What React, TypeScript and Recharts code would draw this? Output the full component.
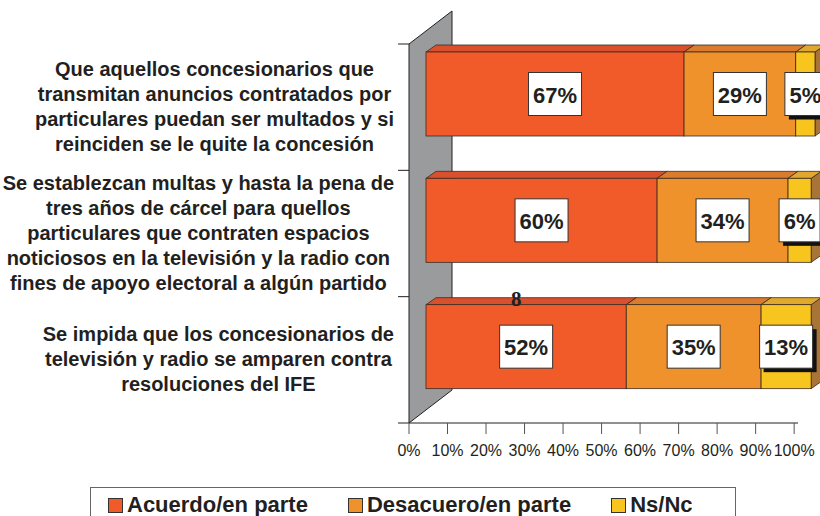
import { Bar, BarChart, ReferenceArea, XAxis, YAxis } from 'recharts'

const categories = [
  'Que aquellos concesionarios que\ntransmitan anuncios contratados por\nparticulares puedan ser multados y si\nreinciden se le quite la concesión',
  'Se establezcan multas y hasta la pena de\ntres años de cárcel para quellos\nparticulares que contraten espacios\nnoticiosos en la televisión y la radio con\nfines de apoyo electoral a algún partido',
  'Se impida que los concesionarios de\ntelevisión y radio se amparen contra\nresoluciones del IFE',
]

const acuerdo = [67, 60, 52]
const desacuerdo = [29, 34, 35]
const nsnc = [5, 6, 13]

const xTicks = [0, 10, 20, 30, 40, 50, 60, 70, 80, 90, 100]

const series = [
  { key: 'acuerdo', name: 'Acuerdo/en parte', front: '#f15a29', top: '#d9502c', side: '#b8441f', shadow: false },
  { key: 'desacuerdo', name: 'Desacuero/en parte', front: '#f0922b', top: '#db7b2c', side: '#b86a22', shadow: false },
  { key: 'nsnc', name: 'Ns/Nc', front: '#f8c51f', top: '#e0a92e', side: '#a97536', shadow: true },
]

const data = categories.map((name, i) => ({
  name,
  acuerdo: acuerdo[i],
  desacuerdo: desacuerdo[i],
  nsnc: nsnc[i],
}))

const TEXT = '#231f20'
const FONT = "'Liberation Sans', Arial, sans-serif"
const EDGE = '#3b2b22'

// bar depth and the shift of the bars back from the front plane
const DX = 10
const DY = -7
const SHIFT_X = 17
const SHIFT_Y = -13

function makeShape(s: (typeof series)[number]) {
  return (props: any) => {
    const { x, y, width, height, payload } = props
    if (!width || !height) return <g />
    const fx = x + SHIFT_X
    const fy = y + SHIFT_Y
    const v = payload[s.key]
    const text = `${v}%`
    const boxW = text.length === 2 ? 41 : 53
    const boxH = 43
    const cx = fx + width / 2
    const cy = fy + height / 2
    const topFace = `${fx},${fy} ${fx + DX},${fy + DY} ${fx + width + DX},${fy + DY} ${fx + width},${fy}`
    const sideFace = `${fx + width},${fy} ${fx + width + DX},${fy + DY} ${fx + width + DX},${fy + height + DY} ${fx + width},${fy + height}`
    return (
      <g>
        <polygon points={sideFace} fill={s.side} stroke={EDGE} strokeWidth={0.8} />
        <polygon points={topFace} fill={s.top} stroke={EDGE} strokeWidth={0.8} />
        <rect x={fx} y={fy} width={width} height={height} fill={s.front} stroke={EDGE} strokeWidth={0.8} />
        {s.shadow && (
          <rect x={cx - boxW / 2 + 4} y={cy - boxH / 2 + 4} width={boxW} height={boxH} fill="#111" />
        )}
        <rect x={cx - boxW / 2} y={cy - boxH / 2} width={boxW} height={boxH} fill="#fff" stroke="#333" strokeWidth={1} />
        <text
          x={cx}
          y={cy + 1}
          textAnchor="middle"
          dominantBaseline="central"
          fontFamily={FONT}
          fontWeight="bold"
          fontSize={22}
          fill={TEXT}
        >
          {text}
        </text>
      </g>
    )
  }
}

function Wall(props: any) {
  const { x, y, height } = props
  const depthX = 43
  const depthY = -33
  const pts = `${x},${y} ${x + depthX},${y + depthY} ${x + depthX},${y + height + depthY} ${x},${y + height}`
  const bands = [...categories, ''].map((_, i) => y + (i * height) / categories.length)
  return (
    <g>
      <polygon points={pts} fill="#9a9b9d" stroke={TEXT} strokeWidth={1} />
      {bands.map((by, i) => (
        <line key={i} x1={x - 11} y1={by} x2={x} y2={by} stroke={TEXT} strokeWidth={1} />
      ))}
    </g>
  )
}

function CategoryTick(props: any) {
  const { y, payload } = props
  return (
    <foreignObject x={0} y={y - 90} width={394} height={180}>
      <div
        style={{
          display: 'flex',
          height: '100%',
          alignItems: 'center',
          justifyContent: 'flex-end',
        }}
      >
        <div
          style={{
            textAlign: 'center',
            whiteSpace: 'pre-line',
            fontFamily: FONT,
            fontWeight: 'bold',
            fontSize: 20,
            lineHeight: '25px',
            color: TEXT,
          }}
        >
          {payload.value}
        </div>
      </div>
    </foreignObject>
  )
}

function PercentTick(props: any) {
  const { x, y, payload } = props
  return (
    <text x={x} y={y + 20} textAnchor="middle" fontFamily={FONT} fontSize={16} fill={TEXT}>
      {`${payload.value}%`}
    </text>
  )
}

export default function App() {
  return (
    <div style={{ position: 'absolute', left: 0, top: 0, width: 820, height: 516, background: '#fff', overflow: 'hidden' }}>
      <BarChart
        width={820}
        height={516}
        layout="vertical"
        data={data}
        margin={{ top: 44, right: 22, bottom: 63, left: 0 }}
        barSize={84}
      >
        <ReferenceArea x1={0} x2={100} ifOverflow="visible" shape={<Wall />} />
        <XAxis
          type="number"
          domain={[0, 100]}
          ticks={xTicks}
          interval={0}
          height={30}
          stroke={TEXT}
          tickLine={{ stroke: '#555' }}
          tickSize={11}
          tick={<PercentTick />}
        />
        <YAxis
          type="category"
          dataKey="name"
          width={409}
          axisLine={false}
          tickLine={false}
          tick={<CategoryTick />}
        />
        {series.map((s) => (
          <Bar
            key={s.key}
            dataKey={s.key}
            name={s.name}
            stackId="a"
            shape={makeShape(s)}
            isAnimationActive={false}
          />
        ))}
      </BarChart>
      <div
        style={{
          position: 'absolute',
          left: 511,
          top: 289,
          fontFamily: "'Liberation Serif', serif",
          fontWeight: 'bold',
          fontSize: 21,
          lineHeight: '21px',
          color: TEXT,
        }}
      >
        8
      </div>
      <div
        style={{
          position: 'absolute',
          left: 90,
          top: 487,
          width: 646,
          height: 40,
          border: '1px solid #666',
          boxSizing: 'border-box',
          display: 'flex',
          alignItems: 'flex-start',
          paddingLeft: 17,
          paddingTop: 4,
          gap: 40,
          fontFamily: FONT,
          fontWeight: 'bold',
          fontSize: 22,
          color: TEXT,
        }}
      >
        {series.map((s) => (
          <div key={s.key} style={{ display: 'flex', alignItems: 'center', gap: 4 }}>
            <span
              style={{
                display: 'inline-block',
                width: 13,
                height: 13,
                background: s.front,
                border: '1px solid #333',
              }}
            />
            <span>{s.name}</span>
          </div>
        ))}
      </div>
    </div>
  )
}
